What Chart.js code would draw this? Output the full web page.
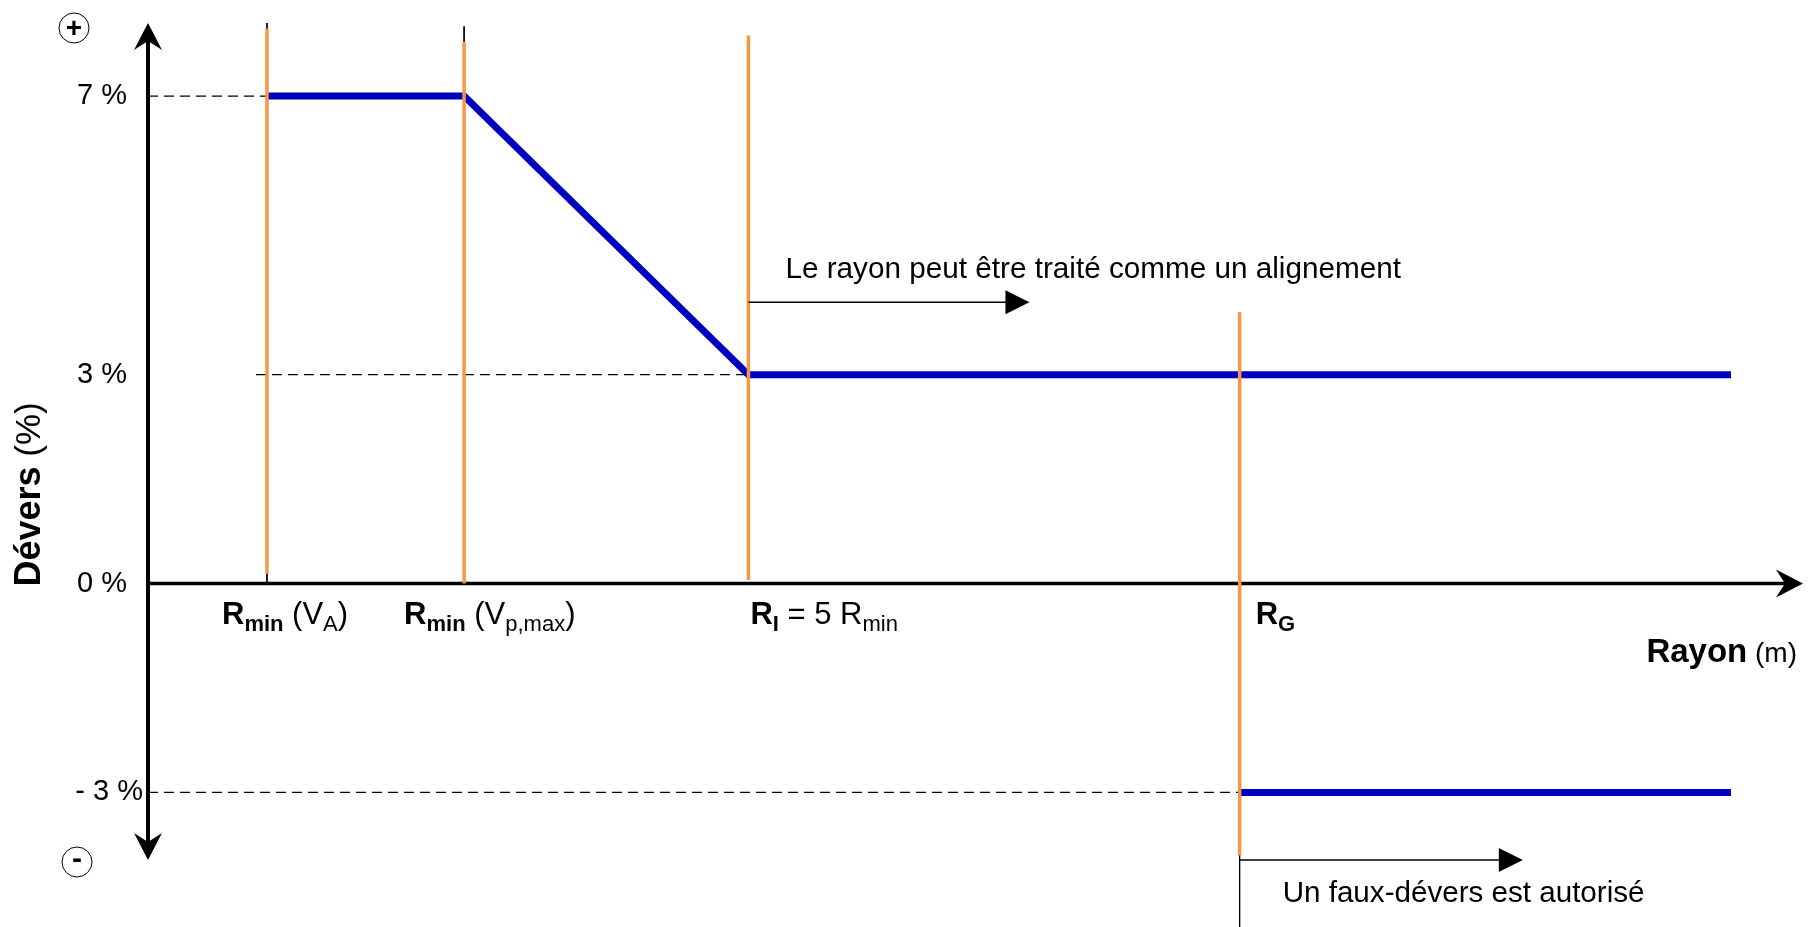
<!DOCTYPE html>
<html>
<head>
<meta charset="utf-8">
<script src="https://cdn.jsdelivr.net/npm/chart.js@4.4.1/dist/chart.umd.min.js"></script>
<style>
  html, body { margin: 0; padding: 0; background: #fff; }
  canvas { display: block; }
</style>
</head>
<body>
<canvas id="deversChart" width="1811" height="927"></canvas>
<script>
// Schematic positions along the radius axis (0 = origin, 100 = arrow tip)
const radiusNames = ['Rmin (VA)', 'Rmin (Vp,max)', 'RI = 5 Rmin', 'RG'];
const radiusValues = [7.19, 19.1, 36.28, 65.96];
const radiusEnd = 95.65;

// Dévers (%) series
const deversMain = [7, 7, 3, 3];     // at Rmin(VA), Rmin(Vp,max), RI, end
const deversFaux = [-3, -3];         // at RG, end

// Extent of the orange marker lines (y values)
const markerTops = [7.97, 7.78, 7.87, 3.9];
const markerBottoms = [0.14, 0, 0.05, -3.9];

// y tick labels
const yTickValues = [7, 3, 0, -3];
const yTickLabels = ['7 %', '3 %', '0 %', '- 3 %'];

// dashed guides: [fromX, toX, y]
const guides = [[0, 7.19, 7], [6.53, 36.28, 3], [0, 65.96, -3]];

// annotation arrows: start x, end x, y, text
const notes = [
    { from: 36.28, to: 53.26, y: 4.04, text: 'Le rayon peut être traité comme un alignement' },
    { from: 65.96, to: 83.07, y: -3.97, text: 'Un faux-dévers est autorisé' }
];

const FONT = "'Liberation Sans', Arial, sans-serif";
const ORANGE = '#F79646';
const BLUE = '#0000C0';

const pts = (xs, ys) => xs.map((x, i) => ({ x: x, y: ys[i] }));

const datasets = [];
// orange markers (drawn on top)
radiusValues.forEach((r, i) => {
    datasets.push({
        data: [{ x: r, y: markerTops[i] }, { x: r, y: markerBottoms[i] }],
        borderColor: ORANGE, borderWidth: 3.5, pointRadius: 0
    });
});
// blue dévers lines
datasets.push({
    data: pts([radiusValues[0], radiusValues[1], radiusValues[2], radiusEnd], deversMain),
    borderColor: BLUE, borderWidth: 7, pointRadius: 0, borderJoinStyle: 'miter'
});
datasets.push({
    data: pts([radiusValues[3], radiusEnd], deversFaux),
    borderColor: BLUE, borderWidth: 7, pointRadius: 0
});
// thin construction lines under the markers
datasets.push({
    data: [{ x: radiusValues[0], y: 8.05 }, { x: radiusValues[0], y: 0 }],
    borderColor: '#000', borderWidth: 1, pointRadius: 0
});
datasets.push({
    data: [{ x: radiusValues[1], y: 8.0 }, { x: radiusValues[1], y: 7.78 }],
    borderColor: '#000', borderWidth: 1, pointRadius: 0
});
datasets.push({
    data: [{ x: radiusValues[1], y: 7.78 }, { x: radiusValues[1], y: 0 }],
    borderColor: '#000', borderWidth: 1, borderDash: [9, 6], pointRadius: 0
});
datasets.push({
    data: [{ x: radiusValues[3], y: -3.9 }, { x: radiusValues[3], y: -4.95 }],
    borderColor: '#000', borderWidth: 1, pointRadius: 0, clip: false
});
// dashed guides
guides.forEach(g => {
    datasets.push({
        data: [{ x: g[0], y: g[2] }, { x: g[1], y: g[2] }],
        borderColor: '#000', borderWidth: 1.2, borderDash: [10, 6], pointRadius: 0
    });
});

function drawRich(ctx, x, y, parts, align) {
    let total = 0;
    parts.forEach(p => {
        ctx.font = (p.bold ? 'bold ' : '') + p.size + 'px ' + FONT;
        p.w = ctx.measureText(p.t).width;
        total += p.w;
    });
    let cx = align === 'right' ? x - total : x;
    parts.forEach(p => {
        ctx.font = (p.bold ? 'bold ' : '') + p.size + 'px ' + FONT;
        ctx.fillText(p.t, cx, y + (p.dy || 0));
        cx += p.w;
    });
}

function axisArrow(ctx, tipX, tipY, dirX, dirY) {
    const len = 27, half = 14, notch = 9;
    const px = -dirY, py = dirX;
    ctx.beginPath();
    ctx.moveTo(tipX, tipY);
    ctx.lineTo(tipX - dirX * len + px * half, tipY - dirY * len + py * half);
    ctx.lineTo(tipX - dirX * (len - notch), tipY - dirY * (len - notch));
    ctx.lineTo(tipX - dirX * len - px * half, tipY - dirY * len - py * half);
    ctx.closePath();
    ctx.fill();
}

const diagramPlugin = {
    id: 'diagram',
    beforeDraw(chart) {
        const ctx = chart.ctx;
        ctx.save();
        ctx.fillStyle = '#fff';
        ctx.fillRect(0, 0, chart.width, chart.height);
        ctx.restore();
    },
    beforeDatasetsDraw(chart) {
        const { ctx, chartArea, scales: { x, y } } = chart;
        const x0 = x.getPixelForValue(0);
        const y0 = y.getPixelForValue(0);
        ctx.save();
        ctx.strokeStyle = '#000';
        ctx.fillStyle = '#000';
        ctx.lineWidth = 4;
        ctx.beginPath();
        ctx.moveTo(x0, chartArea.top + 8);
        ctx.lineTo(x0, chartArea.bottom - 8);
        ctx.stroke();
        ctx.lineWidth = 3.5;
        ctx.beginPath();
        ctx.moveTo(x0, y0);
        ctx.lineTo(chartArea.right - 8, y0);
        ctx.stroke();
        axisArrow(ctx, x0, chartArea.top, 0, -1);
        axisArrow(ctx, x0, chartArea.bottom, 0, 1);
        axisArrow(ctx, chartArea.right, y0, 1, 0);
        ctx.restore();
    },
    afterDatasetsDraw(chart) {
        const { ctx, chartArea, scales: { x, y } } = chart;
        const x0 = x.getPixelForValue(0);
        const y0 = y.getPixelForValue(0);
        ctx.save();
        ctx.fillStyle = '#000';
        ctx.strokeStyle = '#000';

        // y tick labels
        ctx.font = '29px ' + FONT;
        ctx.textBaseline = 'middle';
        ctx.textAlign = 'right';
        yTickValues.forEach((v, i) => {
            const off = v < 0 ? 5 : 21;
            ctx.fillText(yTickLabels[i], x0 - off, y.getPixelForValue(v));
        });

        // + / - circles
        ctx.lineWidth = 1;
        [[x0 - 74, chartArea.top + 5], [x0 - 71, chartArea.bottom + 2]].forEach(c => {
            ctx.beginPath();
            ctx.arc(c[0], c[1], 15, 0, Math.PI * 2);
            ctx.stroke();
        });
        ctx.textAlign = 'center';
        ctx.font = 'bold 28px ' + FONT;
        ctx.fillText('+', x0 - 74, chartArea.top + 6);
        ctx.font = 'bold 30px ' + FONT;
        ctx.fillText('-', x0 - 71, chartArea.bottom);

        // radius labels under the x axis
        ctx.textAlign = 'left';
        ctx.textBaseline = 'alphabetic';
        const base = y0 + 40;
        const big = 31, sub = 22, sdy = 7;
        drawRich(ctx, x.getPixelForValue(radiusValues[0]) - 45, base, [
            { t: 'R', bold: true, size: big }, { t: 'min', bold: true, size: sub, dy: sdy },
            { t: ' (V', size: big }, { t: 'A', size: sub, dy: sdy }, { t: ')', size: big }
        ]);
        drawRich(ctx, x.getPixelForValue(radiusValues[1]) - 60, base, [
            { t: 'R', bold: true, size: big }, { t: 'min', bold: true, size: sub, dy: sdy },
            { t: ' (V', size: big }, { t: 'p,max', size: sub, dy: sdy }, { t: ')', size: big }
        ]);
        drawRich(ctx, x.getPixelForValue(radiusValues[2]) + 2, base, [
            { t: 'R', bold: true, size: big }, { t: 'I', bold: true, size: sub, dy: sdy },
            { t: ' = 5 R', size: big }, { t: 'min', size: sub, dy: sdy }
        ]);
        drawRich(ctx, x.getPixelForValue(radiusValues[3]) + 16, base, [
            { t: 'R', bold: true, size: big }, { t: 'G', bold: true, size: sub, dy: sdy }
        ]);

        // axis titles
        drawRich(ctx, chartArea.right - 6, y0 + 78, [
            { t: 'Rayon', bold: true, size: 33 }, { t: ' (m)', size: 28 }
        ], 'right');
        ctx.save();
        ctx.translate(40, y0 + 3);
        ctx.rotate(-Math.PI / 2);
        drawRich(ctx, 0, 0, [
            { t: 'Dévers', bold: true, size: 36 }, { t: ' (%)', size: 35 }
        ]);
        ctx.restore();

        // annotation arrows and notes
        ctx.lineWidth = 1.5;
        notes.forEach((n, i) => {
            const xs = x.getPixelForValue(n.from);
            const xe = x.getPixelForValue(n.to);
            const yy = y.getPixelForValue(n.y);
            ctx.beginPath();
            ctx.moveTo(xs, yy);
            ctx.lineTo(xe - 22, yy);
            ctx.stroke();
            ctx.beginPath();
            ctx.moveTo(xe, yy);
            ctx.lineTo(xe - 24, yy - 12);
            ctx.lineTo(xe - 24, yy + 12);
            ctx.closePath();
            ctx.fill();
            if (i === 0) {
                ctx.font = '29.7px ' + FONT;
                ctx.fillText(n.text, xs + 37, yy - 24);
            } else {
                ctx.font = '29.6px ' + FONT;
                ctx.fillText(n.text, xs + 43, yy + 42);
            }
        });
        ctx.restore();
    }
};

new Chart(document.getElementById('deversChart'), {
    type: 'line',
    data: { datasets: datasets },
    options: {
        responsive: false,
        animation: false,
        devicePixelRatio: 1,
        layout: { padding: { left: 148, right: 8, top: 23, bottom: 67 } },
        scales: {
            x: { type: 'linear', min: 0, max: 100, display: false },
            y: { type: 'linear', min: -3.97, max: 8.05, display: false }
        },
        plugins: {
            legend: { display: false },
            tooltip: { enabled: false }
        }
    },
    plugins: [diagramPlugin]
});
</script>
</body>
</html>
